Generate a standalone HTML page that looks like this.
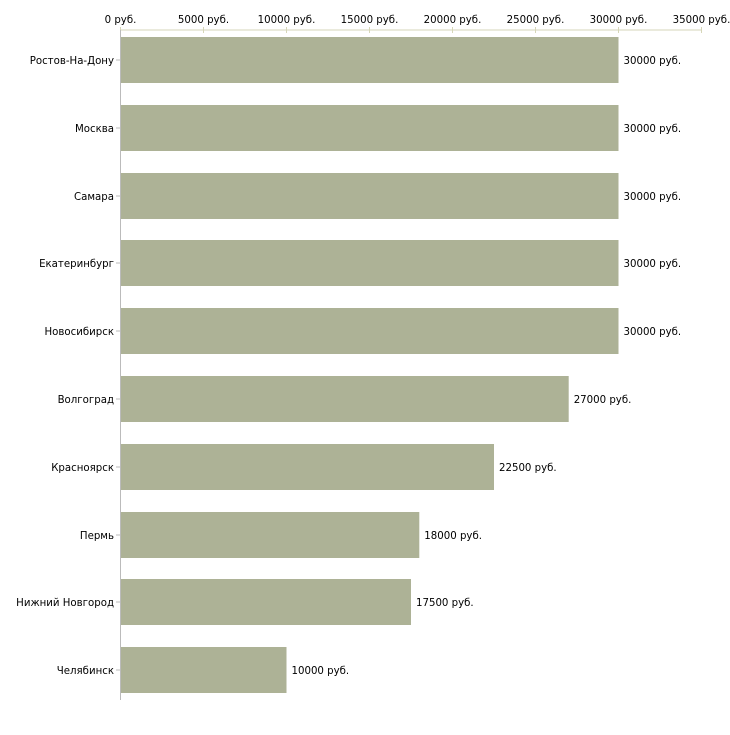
<!DOCTYPE html>
<html><head><meta charset="utf-8"><style>
body{margin:0;background:#fff;width:730px;height:730px;overflow:hidden}
text{font-family:"DejaVu Sans","Liberation Sans",sans-serif;font-size:10.2px;fill:#000}
</style></head><body>
<svg id="c" width="730" height="730" xmlns="http://www.w3.org/2000/svg"></svg>
<script>
const cities=["Ростов-На-Дону","Москва","Самара","Екатеринбург","Новосибирск","Волгоград","Красноярск","Пермь","Нижний Новгород","Челябинск"];
const values=[30000,30000,30000,30000,30000,27000,22500,18000,17500,10000];
const ticks=[0,5000,10000,15000,20000,25000,30000,35000];
const svg=document.getElementById('c');
const NS="http://www.w3.org/2000/svg";
const x0=120.5, pxPer=83/5000, axisY=30, pitch=67.8, barH=46;
const xs=v=>x0+v*pxPer;
function el(t,a){const e=document.createElementNS(NS,t);for(const k in a)e.setAttribute(k,a[k]);svg.appendChild(e);return e;}
const axisTop=el('line',{x1:x0,y1:axisY,x2:xs(35000),y2:axisY,stroke:'#d6d6b8','stroke-width':1});


ticks.forEach(t=>{
  const l=el('line',{x1:xs(t),y1:27,x2:xs(t),y2:33,stroke:'#d6d6b8'});
  
  
  const tx=el('text',{x:xs(t),y:23,'text-anchor':'middle'});tx.textContent=t+' руб.';
  
  
});
cities.forEach((c,i)=>{
  const y=Math.round(axisY+7+i*pitch);
  const r=el('rect',{x:x0,y:y,width:xs(values[i])-x0,height:barH,fill:'#adb296'});
  
  
  const cy=y+barH/2;
  const tk=el('line',{x1:116,y1:cy,x2:x0,y2:cy,stroke:'#bbb'});
  
  
  const lab=el('text',{x:114,y:cy+4,'text-anchor':'end'});lab.textContent=c;
  
  
  const v=el('text',{x:xs(values[i])+5,y:cy+4});v.textContent=values[i]+' руб.';
  
  
});
const ya=el('line',{x1:x0,y1:axisY,x2:x0,y2:700,stroke:'#bbb'});


</script>
</body></html>
